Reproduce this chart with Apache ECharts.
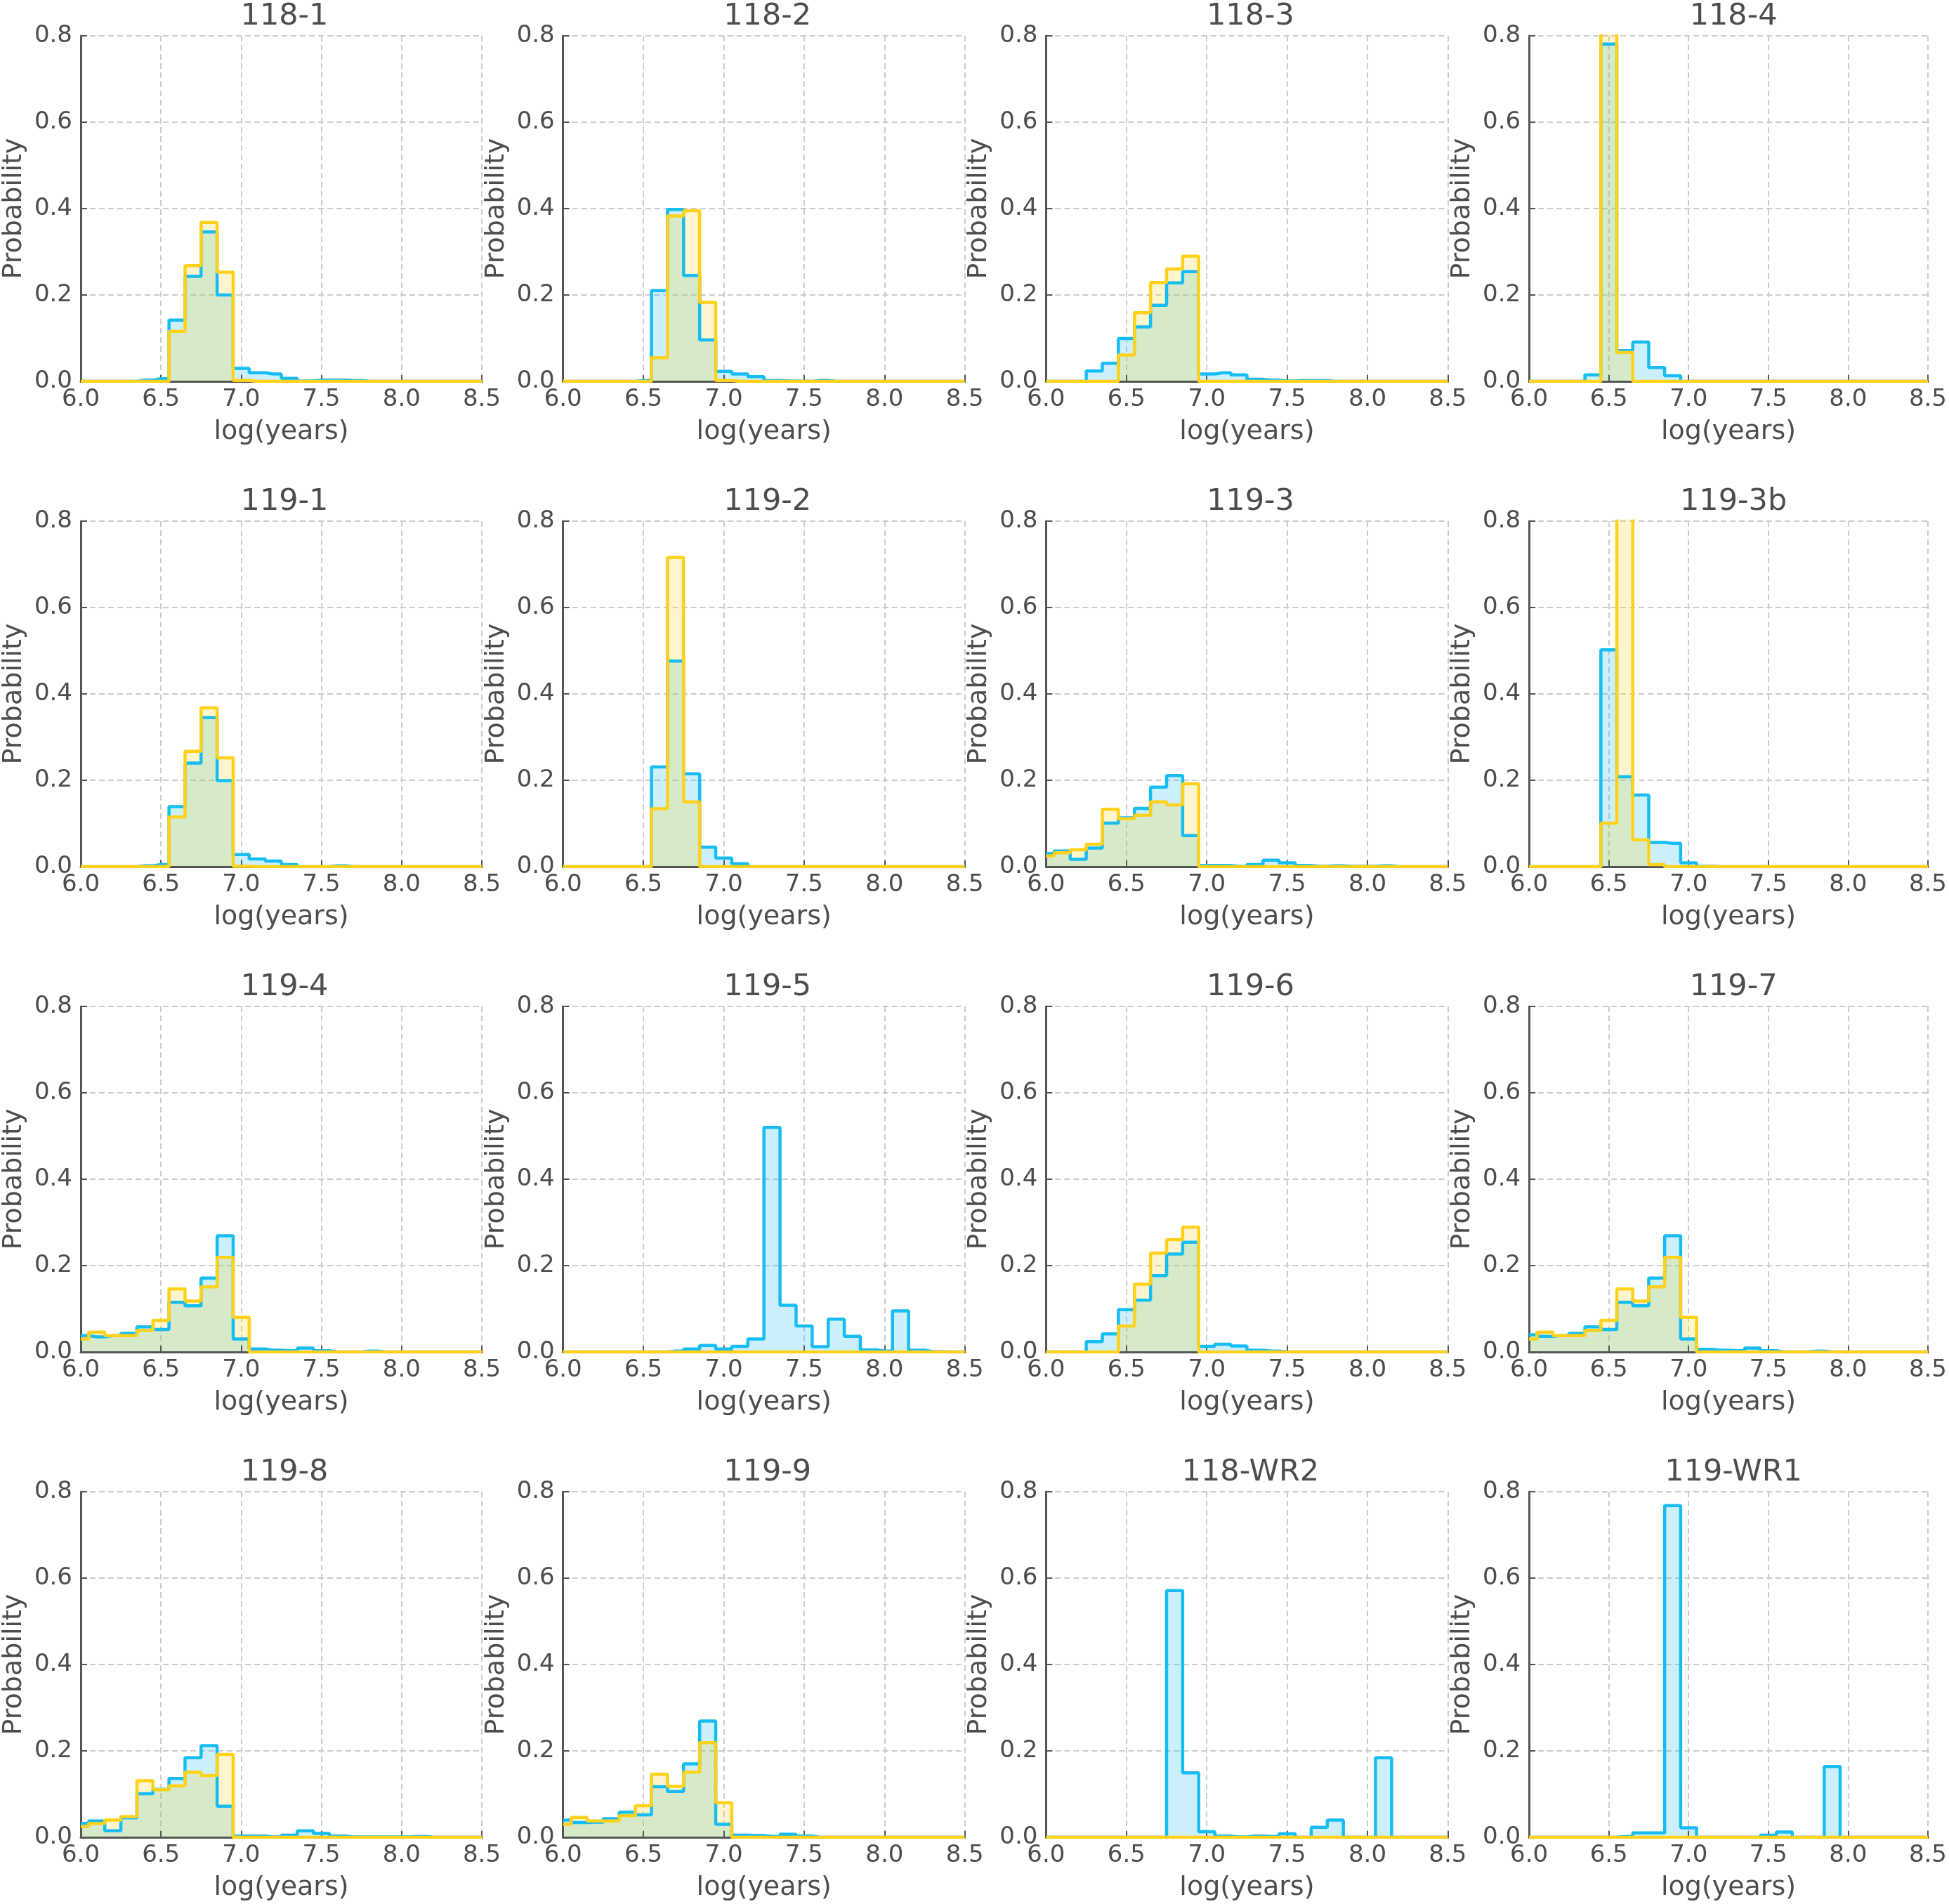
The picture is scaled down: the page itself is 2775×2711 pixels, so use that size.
<!DOCTYPE html>
<html>
<head>
<meta charset="utf-8">
<script src="https://cdn.jsdelivr.net/npm/echarts@6/dist/echarts.min.js"></script>
<style>
  html, body { margin: 0; padding: 0; background: #fff; }
  #main { width: 2775px; height: 2711px; }
</style>
</head>
<body>
<div id="main"></div>
<script>
// bin centres, log(years)
var bins = [6.0, 6.1, 6.2, 6.3, 6.4, 6.5, 6.6, 6.7, 6.8, 6.9, 7.0, 7.1, 7.2,
            7.3, 7.4, 7.5, 7.6, 7.7, 7.8, 7.9, 8.0, 8.1, 8.2, 8.3, 8.4, 8.5];

var titles = ['118-1', '118-2', '118-3', '118-4',
              '119-1', '119-2', '119-3', '119-3b',
              '119-4', '119-5', '119-6', '119-7',
              '119-8', '119-9', '118-WR2', '119-WR1'];

// blue histograms
var blue118_1 = [0,0,0,0,0.003,0.006,0.142,0.243,0.346,0.200,0.030,0.020,0.017,0.007,0.001,0.003,0.003,0.002,0,0,0,0,0,0,0,0];
var blue118_2 = [0,0,0,0,0,0.002,0.210,0.398,0.245,0.096,0.023,0.017,0.011,0.002,0.001,0,0.002,0,0,0,0,0,0,0,0,0];
var blue118_3 = [0,0,0,0.024,0.042,0.099,0.126,0.176,0.228,0.254,0.017,0.020,0.015,0.005,0.003,0.001,0.002,0.002,0,0,0,0,0,0,0,0];
var blue118_4 = [0,0,0,0,0.015,0.781,0.071,0.091,0.032,0.013,0,0,0,0,0,0,0,0,0,0,0,0,0,0,0,0];
var blue119_1 = [0,0,0,0,0.002,0.005,0.139,0.240,0.345,0.199,0.028,0.018,0.013,0.005,0,0,0.002,0,0,0,0,0,0,0,0,0];
var blue119_2 = [0,0,0,0,0,0,0.231,0.476,0.215,0.045,0.020,0.007,0,0,0,0,0,0,0,0,0,0,0,0,0,0];
var blue119_3 = [0.030,0.036,0.017,0.043,0.101,0.113,0.135,0.184,0.211,0.072,0.003,0.003,0.001,0.005,0.015,0.009,0.003,0.001,0.002,0.001,0.001,0.002,0,0,0,0];
var blue119_3b = [0,0,0,0,0,0.502,0.208,0.166,0.056,0.054,0.009,0.001,0,0,0,0,0,0,0,0,0,0,0,0,0,0];
var blue119_4 = [0.038,0.035,0.038,0.043,0.058,0.052,0.115,0.107,0.171,0.269,0.030,0.007,0.004,0.003,0.009,0.003,0,0,0.002,0,0,0,0,0,0,0];
var blue119_5 = [0,0,0,0,0,0,0,0.002,0.007,0.015,0.007,0.013,0.030,0.520,0.108,0.060,0.012,0.076,0.036,0.005,0.002,0.095,0.004,0.001,0,0];
var blue119_6 = [0,0,0,0.024,0.042,0.098,0.120,0.177,0.227,0.254,0.013,0.018,0.014,0.004,0.002,0,0,0,0,0,0,0,0,0,0,0];
var blue119_7 = [0.040,0.036,0.038,0.043,0.058,0.052,0.115,0.107,0.171,0.269,0.030,0.006,0.004,0.003,0.009,0.003,0,0,0.002,0,0,0,0,0,0,0];
var blue119_8 = [0.032,0.038,0.015,0.045,0.101,0.111,0.136,0.184,0.212,0.072,0.003,0.003,0.001,0.005,0.015,0.009,0.003,0.001,0.001,0.001,0.001,0.002,0,0,0,0];
var blue119_9 = [0.040,0.034,0.035,0.043,0.058,0.052,0.117,0.106,0.170,0.269,0.030,0.005,0.004,0.002,0.007,0.003,0,0,0,0,0,0,0,0,0,0];
var blue118_WR2 = [0,0,0,0,0,0,0,0,0.571,0.149,0.013,0.003,0.001,0.003,0.002,0.008,0,0.023,0.040,0,0,0.184,0,0,0,0];
var blue119_WR1 = [0,0,0,0,0,0,0.002,0.010,0.010,0.768,0.022,0,0,0,0,0.005,0.012,0,0,0.164,0,0,0,0,0,0];

// yellow histograms
var yel118_1 = [0,0,0,0,0,0,0.116,0.268,0.368,0.253,0.002,0,0,0,0,0,0,0,0,0,0,0,0,0,0,0];
var yel118_2 = [0,0,0,0,0,0,0.055,0.383,0.395,0.183,0.002,0,0,0,0,0,0,0,0,0,0,0,0,0,0,0];
var yel118_3 = [0,0,0,0,0,0.061,0.159,0.229,0.260,0.290,0,0,0,0,0,0,0,0,0,0,0,0,0,0,0,0];
var yel118_4 = [0,0,0,0,0,0.860,0.067,0,0,0,0,0,0,0,0,0,0,0,0,0,0,0,0,0,0,0];
var yel119_1 = [0,0,0,0,0,0,0.115,0.267,0.368,0.252,0.001,0,0,0,0,0,0,0,0,0,0,0,0,0,0,0];
var yel119_2 = [0,0,0,0,0,0,0.134,0.716,0.150,0,0,0,0,0,0,0,0,0,0,0,0,0,0,0,0,0];
var yel119_3 = [0.025,0.032,0.039,0.052,0.133,0.111,0.119,0.150,0.143,0.192,0,0,0,0,0,0,0,0,0,0,0,0,0,0,0,0];
var yel119_3b = [0,0,0,0,0,0.101,0.900,0.062,0.005,0,0,0,0,0,0,0,0,0,0,0,0,0,0,0,0,0];
var yel119_4 = [0.030,0.046,0.038,0.038,0.050,0.073,0.146,0.118,0.151,0.219,0.080,0,0,0,0,0,0,0,0,0,0,0,0,0,0,0];
var yel119_5 = [0,0,0,0,0,0,0,0,0,0,0,0,0,0,0,0,0,0,0,0,0,0,0,0,0,0];
var yel119_6 = [0,0,0,0,0,0.060,0.157,0.229,0.260,0.289,0,0,0,0,0,0,0,0,0,0,0,0,0,0,0,0];
var yel119_7 = [0.030,0.046,0.038,0.038,0.050,0.073,0.146,0.118,0.151,0.219,0.080,0,0,0,0,0,0,0,0,0,0,0,0,0,0,0];
var yel119_8 = [0.025,0.032,0.040,0.048,0.131,0.110,0.119,0.151,0.143,0.192,0,0,0,0,0,0,0,0,0,0,0,0,0,0,0,0];
var yel119_9 = [0.030,0.046,0.038,0.038,0.050,0.073,0.146,0.118,0.151,0.219,0.080,0,0,0,0,0,0,0,0,0,0,0,0,0,0,0];
var yel118_WR2 = [0,0,0,0,0,0,0,0,0,0,0,0,0,0,0,0,0,0,0,0,0,0,0,0,0,0];
var yel119_WR1 = [0,0,0,0,0,0,0,0,0,0,0,0,0,0,0,0,0,0,0,0,0,0,0,0,0,0];

var blueSets = [blue118_1, blue118_2, blue118_3, blue118_4, blue119_1, blue119_2, blue119_3, blue119_3b,
                blue119_4, blue119_5, blue119_6, blue119_7, blue119_8, blue119_9, blue118_WR2, blue119_WR1];
var yelSets = [yel118_1, yel118_2, yel118_3, yel118_4, yel119_1, yel119_2, yel119_3, yel119_3b,
               yel119_4, yel119_5, yel119_6, yel119_7, yel119_8, yel119_9, yel118_WR2, yel119_WR1];

var textColor = '#4d4d4d';
var font = 'DejaVu Sans';

function pairs(vals) {
    var out = [];
    for (var k = 0; k < bins.length; k++) {
        out.push([bins[k], vals[k]]);
    }
    return out;
}

function fmt1(v) { return v.toFixed(1); }

function buildOption() {
    var grids = [], xAxes = [], yAxes = [], series = [], titleList = [];

    for (var i = 0; i < 16; i++) {
        var row = Math.floor(i / 4), col = i % 4;
        var gLeft = 114 + col * 687.7;
        var gTop = 51 + row * 691;
        grids.push({ left: gLeft, top: gTop, width: 572, height: 492 });

        titleList.push({
            text: titles[i],
            left: gLeft + 286,
            top: gTop - 54,
            textAlign: 'center',
            textStyle: { fontFamily: font, fontSize: 43, fontWeight: 'normal', color: textColor }
        });

        xAxes.push({
            gridIndex: i, type: 'value', min: 6, max: 8.5, interval: 0.5, z: 3,
            name: 'log(years)', nameLocation: 'middle', nameGap: 53,
            nameTextStyle: { fontFamily: font, fontSize: 38, color: textColor },
            axisLine: { lineStyle: { color: '#555555', width: 3 } },
            axisTick: { inside: true, length: 9, lineStyle: { color: '#555555', width: 2 } },
            axisLabel: { fontFamily: font, fontSize: 34, color: textColor, margin: 9, formatter: fmt1 },
            splitLine: { show: true, lineStyle: { color: '#cccccc', width: 2, type: [8, 5] } }
        });

        yAxes.push({
            gridIndex: i, type: 'value', min: 0, max: 0.8, interval: 0.2, z: 3,
            name: 'Probability', nameLocation: 'middle', nameGap: 76, nameRotate: 90,
            nameTextStyle: { fontFamily: font, fontSize: 38, color: textColor },
            axisLine: { show: true, lineStyle: { color: '#555555', width: 3 } },
            axisTick: { show: true, inside: true, length: 9, lineStyle: { color: '#555555', width: 2 } },
            axisLabel: { fontFamily: font, fontSize: 34, color: textColor, margin: 12, formatter: fmt1 },
            splitLine: { show: true, lineStyle: { color: '#cccccc', width: 2, type: [8, 5] } }
        });

        series.push({
            type: 'line', xAxisIndex: i, yAxisIndex: i, step: 'middle', symbol: 'none',
            clip: true, data: pairs(blueSets[i]),
            lineStyle: { color: '#17bdf2', width: 4.5 },
            areaStyle: { color: 'rgba(23,189,242,0.32)' }
        });
        series.push({
            type: 'line', xAxisIndex: i, yAxisIndex: i, step: 'middle', symbol: 'none',
            clip: true, data: pairs(yelSets[i]),
            lineStyle: { color: '#ffd11a', width: 4.5 },
            areaStyle: { color: 'rgba(255,209,26,0.32)' }
        });
    }

    return {
        animation: false,
        backgroundColor: '#ffffff',
        title: titleList,
        grid: grids,
        xAxis: xAxes,
        yAxis: yAxes,
        series: series
    };
}

var myChart = echarts.init(document.getElementById('main'));
myChart.setOption(buildOption());
</script>
</body>
</html>
